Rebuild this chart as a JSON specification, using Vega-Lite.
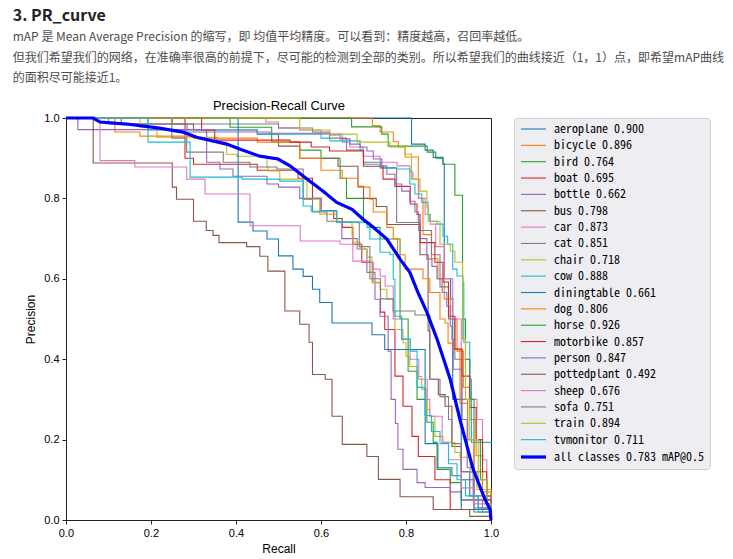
{
"$schema": "https://vega.github.io/schema/vega-lite/v6.json",
"background": "white",
"width": 425,
"height": 402,
"padding": {"left": 12, "top": 8, "right": 5, "bottom": 5},
"title": {
  "text": "3. PR_curve",
  "subtitle": ["mAP 是 Mean Average Precision 的缩写，即 均值平均精度。可以看到：精度越高，召回率越低。", "但我们希望我们的网络，在准确率很高的前提下，尽可能的检测到全部的类别。所以希望我们的曲线接近（1，1）点，即希望mAP曲线", "的面积尽可能接近1。"],
  "anchor": "start", "frame": "bounds", "dx": -12,
  "font": "Noto Sans CJK SC", "fontSize": 16, "fontWeight": "bold", "color": "#222226",
  "subtitleFont": "Noto Sans CJK SC", "subtitleFontSize": 12, "subtitleColor": "#4d4d4d",
  "subtitleLineHeight": 20.5, "subtitlePadding": 8, "offset": 15
},
"config": {
  "view": {"stroke": "#222", "strokeWidth": 1},
  "axis": {"domainColor": "#222", "tickColor": "#222", "labelColor": "#000", "titleColor": "#000", "labelFont": "Liberation Sans", "titleFont": "Liberation Sans", "labelFontSize": 11, "titleFontSize": 12, "titleFontWeight": "normal", "grid": false, "tickSize": 4, "labelPadding": 3},
  "legend": {"orient": "right", "offset": 16, "symbolType": "M-1,0H4", "symbolSize": 100, "labelFont": "Noto Sans Mono CJK SC", "labelFontSize": 12, "labelColor": "#000", "fillColor": "#ededf2", "strokeColor": "#cfcfcf", "cornerRadius": 3, "padding": 5, "rowPadding": 4.35, "labelOffset": 21, "labelLimit": 300, "symbolOpacity": 1}
},
"data": {"values": [
{"c":"aeroplane 0.900","r":0,"p":1},{"c":"aeroplane 0.900","r":0.813,"p":0.935},{"c":"aeroplane 0.900","r":0.845,"p":0.92},{"c":"aeroplane 0.900","r":0.864,"p":0.902},{"c":"aeroplane 0.900","r":0.887,"p":0.886},{"c":"aeroplane 0.900","r":0.89,"p":0.6},{"c":"aeroplane 0.900","r":0.905,"p":0.55},{"c":"aeroplane 0.900","r":0.91,"p":0.3},{"c":"aeroplane 0.900","r":0.93,"p":0.12},{"c":"aeroplane 0.900","r":0.95,"p":0.06},{"c":"aeroplane 0.900","r":0.97,"p":0.03},{"c":"aeroplane 0.900","r":1,"p":0},
{"c":"bicycle 0.896","r":0,"p":1},{"c":"bicycle 0.896","r":0.721,"p":0.981},{"c":"bicycle 0.896","r":0.739,"p":0.965},{"c":"bicycle 0.896","r":0.77,"p":0.941},{"c":"bicycle 0.896","r":0.782,"p":0.928},{"c":"bicycle 0.896","r":0.798,"p":0.903},{"c":"bicycle 0.896","r":0.829,"p":0.8},{"c":"bicycle 0.896","r":0.84,"p":0.71},{"c":"bicycle 0.896","r":0.86,"p":0.65},{"c":"bicycle 0.896","r":0.875,"p":0.6},{"c":"bicycle 0.896","r":0.89,"p":0.55},{"c":"bicycle 0.896","r":0.905,"p":0.5},{"c":"bicycle 0.896","r":0.92,"p":0.42},{"c":"bicycle 0.896","r":0.935,"p":0.33},{"c":"bicycle 0.896","r":0.95,"p":0.25},{"c":"bicycle 0.896","r":0.965,"p":0.16},{"c":"bicycle 0.896","r":0.98,"p":0.07},{"c":"bicycle 0.896","r":1,"p":0},
{"c":"bird 0.764","r":0,"p":1},{"c":"bird 0.764","r":0.386,"p":0.977},{"c":"bird 0.764","r":0.484,"p":0.94},{"c":"bird 0.764","r":0.55,"p":0.92},{"c":"bird 0.764","r":0.6,"p":0.9},{"c":"bird 0.764","r":0.645,"p":0.85},{"c":"bird 0.764","r":0.66,"p":0.8},{"c":"bird 0.764","r":0.7,"p":0.74},{"c":"bird 0.764","r":0.715,"p":0.728},{"c":"bird 0.764","r":0.739,"p":0.699},{"c":"bird 0.764","r":0.786,"p":0.5},{"c":"bird 0.764","r":0.805,"p":0.37},{"c":"bird 0.764","r":0.826,"p":0.3},{"c":"bird 0.764","r":0.849,"p":0.243},{"c":"bird 0.764","r":0.864,"p":0.193},{"c":"bird 0.764","r":0.873,"p":0.126},{"c":"bird 0.764","r":0.904,"p":0.093},{"c":"bird 0.764","r":0.93,"p":0.05},{"c":"bird 0.764","r":0.96,"p":0.02},{"c":"bird 0.764","r":1,"p":0},
{"c":"boat 0.695","r":0,"p":1},{"c":"boat 0.695","r":0.28,"p":0.9},{"c":"boat 0.695","r":0.3,"p":0.885},{"c":"boat 0.695","r":0.45,"p":0.87},{"c":"boat 0.695","r":0.546,"p":0.85},{"c":"boat 0.695","r":0.58,"p":0.8},{"c":"boat 0.695","r":0.6,"p":0.77},{"c":"boat 0.695","r":0.63,"p":0.75},{"c":"boat 0.695","r":0.65,"p":0.728},{"c":"boat 0.695","r":0.675,"p":0.686},{"c":"boat 0.695","r":0.696,"p":0.641},{"c":"boat 0.695","r":0.722,"p":0.59},{"c":"boat 0.695","r":0.74,"p":0.517},{"c":"boat 0.695","r":0.75,"p":0.474},{"c":"boat 0.695","r":0.774,"p":0.358},{"c":"boat 0.695","r":0.793,"p":0.283},{"c":"boat 0.695","r":0.814,"p":0.208},{"c":"boat 0.695","r":0.829,"p":0.158},{"c":"boat 0.695","r":0.868,"p":0.1},{"c":"boat 0.695","r":0.904,"p":0.026},{"c":"boat 0.695","r":1,"p":0},
{"c":"bottle 0.662","r":0,"p":1},{"c":"bottle 0.662","r":0.1,"p":0.985},{"c":"bottle 0.662","r":0.285,"p":0.965},{"c":"bottle 0.662","r":0.331,"p":0.89},{"c":"bottle 0.662","r":0.362,"p":0.873},{"c":"bottle 0.662","r":0.393,"p":0.855},{"c":"bottle 0.662","r":0.473,"p":0.836},{"c":"bottle 0.662","r":0.5,"p":0.828},{"c":"bottle 0.662","r":0.55,"p":0.8},{"c":"bottle 0.662","r":0.6,"p":0.77},{"c":"bottle 0.662","r":0.637,"p":0.741},{"c":"bottle 0.662","r":0.649,"p":0.7},{"c":"bottle 0.662","r":0.685,"p":0.674},{"c":"bottle 0.662","r":0.708,"p":0.616},{"c":"bottle 0.662","r":0.727,"p":0.549},{"c":"bottle 0.662","r":0.739,"p":0.507},{"c":"bottle 0.662","r":0.758,"p":0.42},{"c":"bottle 0.662","r":0.765,"p":0.3},{"c":"bottle 0.662","r":0.775,"p":0.24},{"c":"bottle 0.662","r":0.781,"p":0.176},{"c":"bottle 0.662","r":0.793,"p":0.126},{"c":"bottle 0.662","r":0.826,"p":0.093},{"c":"bottle 0.662","r":0.845,"p":0.081},{"c":"bottle 0.662","r":0.904,"p":0.07},{"c":"bottle 0.662","r":0.93,"p":0.05},{"c":"bottle 0.662","r":0.96,"p":0.03},{"c":"bottle 0.662","r":1,"p":0},
{"c":"bus 0.798","r":0,"p":1},{"c":"bus 0.798","r":0.13,"p":0.985},{"c":"bus 0.798","r":0.3,"p":0.97},{"c":"bus 0.798","r":0.45,"p":0.96},{"c":"bus 0.798","r":0.5,"p":0.93},{"c":"bus 0.798","r":0.55,"p":0.9},{"c":"bus 0.798","r":0.64,"p":0.88},{"c":"bus 0.798","r":0.687,"p":0.83},{"c":"bus 0.798","r":0.7,"p":0.8},{"c":"bus 0.798","r":0.73,"p":0.78},{"c":"bus 0.798","r":0.755,"p":0.735},{"c":"bus 0.798","r":0.833,"p":0.66},{"c":"bus 0.798","r":0.852,"p":0.47},{"c":"bus 0.798","r":0.856,"p":0.35},{"c":"bus 0.798","r":0.876,"p":0.312},{"c":"bus 0.798","r":0.892,"p":0.283},{"c":"bus 0.798","r":0.908,"p":0.183},{"c":"bus 0.798","r":0.93,"p":0.1},{"c":"bus 0.798","r":0.96,"p":0.05},{"c":"bus 0.798","r":1,"p":0},
{"c":"car 0.873","r":0,"p":1},{"c":"car 0.873","r":0.47,"p":0.99},{"c":"car 0.873","r":0.5,"p":0.975},{"c":"car 0.873","r":0.55,"p":0.97},{"c":"car 0.873","r":0.6,"p":0.96},{"c":"car 0.873","r":0.65,"p":0.94},{"c":"car 0.873","r":0.668,"p":0.928},{"c":"car 0.873","r":0.699,"p":0.905},{"c":"car 0.873","r":0.739,"p":0.89},{"c":"car 0.873","r":0.779,"p":0.881},{"c":"car 0.873","r":0.809,"p":0.866},{"c":"car 0.873","r":0.816,"p":0.848},{"c":"car 0.873","r":0.83,"p":0.8},{"c":"car 0.873","r":0.845,"p":0.76},{"c":"car 0.873","r":0.857,"p":0.736},{"c":"car 0.873","r":0.87,"p":0.68},{"c":"car 0.873","r":0.89,"p":0.6},{"c":"car 0.873","r":0.91,"p":0.5},{"c":"car 0.873","r":0.93,"p":0.4},{"c":"car 0.873","r":0.95,"p":0.3},{"c":"car 0.873","r":0.967,"p":0.25},{"c":"car 0.873","r":0.98,"p":0.15},{"c":"car 0.873","r":0.99,"p":0.06},{"c":"car 0.873","r":1,"p":0},
{"c":"cat 0.851","r":0,"p":1},{"c":"cat 0.851","r":0.25,"p":0.985},{"c":"cat 0.851","r":0.5,"p":0.975},{"c":"cat 0.851","r":0.58,"p":0.965},{"c":"cat 0.851","r":0.62,"p":0.95},{"c":"cat 0.851","r":0.66,"p":0.92},{"c":"cat 0.851","r":0.7,"p":0.89},{"c":"cat 0.851","r":0.74,"p":0.875},{"c":"cat 0.851","r":0.778,"p":0.74},{"c":"cat 0.851","r":0.83,"p":0.72},{"c":"cat 0.851","r":0.86,"p":0.66},{"c":"cat 0.851","r":0.88,"p":0.58},{"c":"cat 0.851","r":0.9,"p":0.5},{"c":"cat 0.851","r":0.915,"p":0.4},{"c":"cat 0.851","r":0.93,"p":0.3},{"c":"cat 0.851","r":0.945,"p":0.2},{"c":"cat 0.851","r":0.96,"p":0.12},{"c":"cat 0.851","r":0.98,"p":0.06},{"c":"cat 0.851","r":1,"p":0},
{"c":"chair 0.718","r":0,"p":1},{"c":"chair 0.718","r":0.174,"p":0.977},{"c":"chair 0.718","r":0.214,"p":0.952},{"c":"chair 0.718","r":0.355,"p":0.94},{"c":"chair 0.718","r":0.378,"p":0.91},{"c":"chair 0.718","r":0.402,"p":0.905},{"c":"chair 0.718","r":0.473,"p":0.878},{"c":"chair 0.718","r":0.475,"p":0.868},{"c":"chair 0.718","r":0.503,"p":0.848},{"c":"chair 0.718","r":0.567,"p":0.798},{"c":"chair 0.718","r":0.597,"p":0.761},{"c":"chair 0.718","r":0.637,"p":0.741},{"c":"chair 0.718","r":0.673,"p":0.706},{"c":"chair 0.718","r":0.675,"p":0.691},{"c":"chair 0.718","r":0.692,"p":0.674},{"c":"chair 0.718","r":0.708,"p":0.654},{"c":"chair 0.718","r":0.72,"p":0.591},{"c":"chair 0.718","r":0.739,"p":0.574},{"c":"chair 0.718","r":0.755,"p":0.549},{"c":"chair 0.718","r":0.77,"p":0.517},{"c":"chair 0.718","r":0.774,"p":0.474},{"c":"chair 0.718","r":0.793,"p":0.441},{"c":"chair 0.718","r":0.8,"p":0.407},{"c":"chair 0.718","r":0.809,"p":0.382},{"c":"chair 0.718","r":0.826,"p":0.357},{"c":"chair 0.718","r":0.837,"p":0.325},{"c":"chair 0.718","r":0.849,"p":0.275},{"c":"chair 0.718","r":0.856,"p":0.258},{"c":"chair 0.718","r":0.868,"p":0.208},{"c":"chair 0.718","r":0.887,"p":0.193},{"c":"chair 0.718","r":0.915,"p":0.168},{"c":"chair 0.718","r":0.927,"p":0.156},{"c":"chair 0.718","r":0.951,"p":0.118},{"c":"chair 0.718","r":0.967,"p":0.076},{"c":"chair 0.718","r":1,"p":0},
{"c":"cow 0.888","r":0,"p":1},{"c":"cow 0.888","r":0.193,"p":0.97},{"c":"cow 0.888","r":0.45,"p":0.96},{"c":"cow 0.888","r":0.6,"p":0.95},{"c":"cow 0.888","r":0.621,"p":0.943},{"c":"cow 0.888","r":0.692,"p":0.92},{"c":"cow 0.888","r":0.7,"p":0.885},{"c":"cow 0.888","r":0.739,"p":0.877},{"c":"cow 0.888","r":0.778,"p":0.873},{"c":"cow 0.888","r":0.809,"p":0.836},{"c":"cow 0.888","r":0.821,"p":0.811},{"c":"cow 0.888","r":0.837,"p":0.79},{"c":"cow 0.888","r":0.852,"p":0.76},{"c":"cow 0.888","r":0.856,"p":0.743},{"c":"cow 0.888","r":0.873,"p":0.736},{"c":"cow 0.888","r":0.887,"p":0.706},{"c":"cow 0.888","r":0.898,"p":0.686},{"c":"cow 0.888","r":0.91,"p":0.624},{"c":"cow 0.888","r":0.92,"p":0.607},{"c":"cow 0.888","r":0.934,"p":0.59},{"c":"cow 0.888","r":0.936,"p":0.442},{"c":"cow 0.888","r":0.95,"p":0.35},{"c":"cow 0.888","r":0.954,"p":0.193},{"c":"cow 0.888","r":1,"p":0.19},
{"c":"diningtable 0.661","r":0,"p":1},{"c":"diningtable 0.661","r":0.405,"p":0.741},{"c":"diningtable 0.661","r":0.44,"p":0.719},{"c":"diningtable 0.661","r":0.473,"p":0.699},{"c":"diningtable 0.661","r":0.5,"p":0.657},{"c":"diningtable 0.661","r":0.534,"p":0.624},{"c":"diningtable 0.661","r":0.558,"p":0.606},{"c":"diningtable 0.661","r":0.58,"p":0.574},{"c":"diningtable 0.661","r":0.597,"p":0.541},{"c":"diningtable 0.661","r":0.626,"p":0.49},{"c":"diningtable 0.661","r":0.72,"p":0.461},{"c":"diningtable 0.661","r":0.75,"p":0.424},{"c":"diningtable 0.661","r":0.845,"p":0.19},{"c":"diningtable 0.661","r":0.875,"p":0.13},{"c":"diningtable 0.661","r":0.908,"p":0.11},{"c":"diningtable 0.661","r":0.93,"p":0.026},{"c":"diningtable 0.661","r":1,"p":0},
{"c":"dog 0.806","r":0,"p":1},{"c":"dog 0.806","r":0.115,"p":0.965},{"c":"dog 0.806","r":0.174,"p":0.955},{"c":"dog 0.806","r":0.3,"p":0.95},{"c":"dog 0.806","r":0.45,"p":0.94},{"c":"dog 0.806","r":0.55,"p":0.9},{"c":"dog 0.806","r":0.6,"p":0.87},{"c":"dog 0.806","r":0.65,"p":0.85},{"c":"dog 0.806","r":0.687,"p":0.828},{"c":"dog 0.806","r":0.715,"p":0.798},{"c":"dog 0.806","r":0.723,"p":0.766},{"c":"dog 0.806","r":0.755,"p":0.728},{"c":"dog 0.806","r":0.77,"p":0.7},{"c":"dog 0.806","r":0.78,"p":0.66},{"c":"dog 0.806","r":0.798,"p":0.624},{"c":"dog 0.806","r":0.84,"p":0.6},{"c":"dog 0.806","r":0.856,"p":0.566},{"c":"dog 0.806","r":0.88,"p":0.5},{"c":"dog 0.806","r":0.892,"p":0.49},{"c":"dog 0.806","r":0.899,"p":0.44},{"c":"dog 0.806","r":0.911,"p":0.425},{"c":"dog 0.806","r":0.927,"p":0.29},{"c":"dog 0.806","r":0.945,"p":0.2},{"c":"dog 0.806","r":0.96,"p":0.12},{"c":"dog 0.806","r":0.98,"p":0.06},{"c":"dog 0.806","r":1,"p":0},
{"c":"horse 0.926","r":0,"p":1},{"c":"horse 0.926","r":0.672,"p":0.978},{"c":"horse 0.926","r":0.743,"p":0.96},{"c":"horse 0.926","r":0.758,"p":0.93},{"c":"horse 0.926","r":0.85,"p":0.915},{"c":"horse 0.926","r":0.87,"p":0.9},{"c":"horse 0.926","r":0.887,"p":0.885},{"c":"horse 0.926","r":0.915,"p":0.808},{"c":"horse 0.926","r":0.933,"p":0.5},{"c":"horse 0.926","r":0.94,"p":0.4},{"c":"horse 0.926","r":0.95,"p":0.3},{"c":"horse 0.926","r":0.96,"p":0.2},{"c":"horse 0.926","r":0.975,"p":0.1},{"c":"horse 0.926","r":0.99,"p":0.04},{"c":"horse 0.926","r":1,"p":0},
{"c":"motorbike 0.857","r":0,"p":1},{"c":"motorbike 0.857","r":0.319,"p":0.97},{"c":"motorbike 0.857","r":0.35,"p":0.945},{"c":"motorbike 0.857","r":0.527,"p":0.94},{"c":"motorbike 0.857","r":0.577,"p":0.928},{"c":"motorbike 0.857","r":0.62,"p":0.918},{"c":"motorbike 0.857","r":0.7,"p":0.88},{"c":"motorbike 0.857","r":0.746,"p":0.848},{"c":"motorbike 0.857","r":0.774,"p":0.83},{"c":"motorbike 0.857","r":0.81,"p":0.786},{"c":"motorbike 0.857","r":0.826,"p":0.76},{"c":"motorbike 0.857","r":0.833,"p":0.69},{"c":"motorbike 0.857","r":0.868,"p":0.641},{"c":"motorbike 0.857","r":0.887,"p":0.592},{"c":"motorbike 0.857","r":0.9,"p":0.507},{"c":"motorbike 0.857","r":0.915,"p":0.425},{"c":"motorbike 0.857","r":0.932,"p":0.358},{"c":"motorbike 0.857","r":0.95,"p":0.28},{"c":"motorbike 0.857","r":0.965,"p":0.2},{"c":"motorbike 0.857","r":0.98,"p":0.12},{"c":"motorbike 0.857","r":0.99,"p":0.05},{"c":"motorbike 0.857","r":1,"p":0},
{"c":"person 0.847","r":0,"p":1},{"c":"person 0.847","r":0.028,"p":0.971},{"c":"person 0.847","r":0.33,"p":0.965},{"c":"person 0.847","r":0.48,"p":0.962},{"c":"person 0.847","r":0.621,"p":0.958},{"c":"person 0.847","r":0.645,"p":0.948},{"c":"person 0.847","r":0.668,"p":0.935},{"c":"person 0.847","r":0.692,"p":0.928},{"c":"person 0.847","r":0.708,"p":0.918},{"c":"person 0.847","r":0.723,"p":0.898},{"c":"person 0.847","r":0.743,"p":0.881},{"c":"person 0.847","r":0.755,"p":0.86},{"c":"person 0.847","r":0.774,"p":0.836},{"c":"person 0.847","r":0.79,"p":0.818},{"c":"person 0.847","r":0.809,"p":0.793},{"c":"person 0.847","r":0.821,"p":0.766},{"c":"person 0.847","r":0.829,"p":0.743},{"c":"person 0.847","r":0.833,"p":0.7},{"c":"person 0.847","r":0.849,"p":0.649},{"c":"person 0.847","r":0.861,"p":0.631},{"c":"person 0.847","r":0.873,"p":0.6},{"c":"person 0.847","r":0.885,"p":0.566},{"c":"person 0.847","r":0.896,"p":0.532},{"c":"person 0.847","r":0.904,"p":0.482},{"c":"person 0.847","r":0.908,"p":0.45},{"c":"person 0.847","r":0.911,"p":0.375},{"c":"person 0.847","r":0.932,"p":0.25},{"c":"person 0.847","r":0.944,"p":0.13},{"c":"person 0.847","r":0.958,"p":0.05},{"c":"person 0.847","r":0.98,"p":0.02},{"c":"person 0.847","r":1,"p":0},
{"c":"pottedplant 0.492","r":0,"p":1},{"c":"pottedplant 0.492","r":0.064,"p":0.888},{"c":"pottedplant 0.492","r":0.25,"p":0.828},{"c":"pottedplant 0.492","r":0.26,"p":0.798},{"c":"pottedplant 0.492","r":0.3,"p":0.743},{"c":"pottedplant 0.492","r":0.33,"p":0.72},{"c":"pottedplant 0.492","r":0.346,"p":0.708},{"c":"pottedplant 0.492","r":0.36,"p":0.69},{"c":"pottedplant 0.492","r":0.425,"p":0.68},{"c":"pottedplant 0.492","r":0.456,"p":0.656},{"c":"pottedplant 0.492","r":0.475,"p":0.619},{"c":"pottedplant 0.492","r":0.515,"p":0.52},{"c":"pottedplant 0.492","r":0.55,"p":0.487},{"c":"pottedplant 0.492","r":0.572,"p":0.442},{"c":"pottedplant 0.492","r":0.58,"p":0.362},{"c":"pottedplant 0.492","r":0.61,"p":0.35},{"c":"pottedplant 0.492","r":0.626,"p":0.258},{"c":"pottedplant 0.492","r":0.65,"p":0.188},{"c":"pottedplant 0.492","r":0.708,"p":0.158},{"c":"pottedplant 0.492","r":0.735,"p":0.101},{"c":"pottedplant 0.492","r":0.786,"p":0.058},{"c":"pottedplant 0.492","r":0.864,"p":0.026},{"c":"pottedplant 0.492","r":0.95,"p":0.009},{"c":"pottedplant 0.492","r":1,"p":0},
{"c":"sheep 0.676","r":0,"p":1},{"c":"sheep 0.676","r":0.08,"p":0.894},{"c":"sheep 0.676","r":0.162,"p":0.878},{"c":"sheep 0.676","r":0.284,"p":0.848},{"c":"sheep 0.676","r":0.327,"p":0.811},{"c":"sheep 0.676","r":0.433,"p":0.732},{"c":"sheep 0.676","r":0.551,"p":0.694},{"c":"sheep 0.676","r":0.645,"p":0.686},{"c":"sheep 0.676","r":0.675,"p":0.644},{"c":"sheep 0.676","r":0.715,"p":0.641},{"c":"sheep 0.676","r":0.723,"p":0.624},{"c":"sheep 0.676","r":0.739,"p":0.607},{"c":"sheep 0.676","r":0.751,"p":0.582},{"c":"sheep 0.676","r":0.77,"p":0.5},{"c":"sheep 0.676","r":0.79,"p":0.45},{"c":"sheep 0.676","r":0.81,"p":0.4},{"c":"sheep 0.676","r":0.83,"p":0.35},{"c":"sheep 0.676","r":0.85,"p":0.3},{"c":"sheep 0.676","r":0.856,"p":0.258},{"c":"sheep 0.676","r":0.885,"p":0.193},{"c":"sheep 0.676","r":0.9,"p":0.15},{"c":"sheep 0.676","r":0.93,"p":0.08},{"c":"sheep 0.676","r":0.96,"p":0.04},{"c":"sheep 0.676","r":1,"p":0},
{"c":"sofa 0.751","r":0,"p":1},{"c":"sofa 0.751","r":0.249,"p":0.95},{"c":"sofa 0.751","r":0.284,"p":0.915},{"c":"sofa 0.751","r":0.37,"p":0.89},{"c":"sofa 0.751","r":0.433,"p":0.878},{"c":"sofa 0.751","r":0.496,"p":0.873},{"c":"sofa 0.751","r":0.558,"p":0.798},{"c":"sofa 0.751","r":0.58,"p":0.766},{"c":"sofa 0.751","r":0.614,"p":0.743},{"c":"sofa 0.751","r":0.645,"p":0.741},{"c":"sofa 0.751","r":0.69,"p":0.68},{"c":"sofa 0.751","r":0.715,"p":0.6},{"c":"sofa 0.751","r":0.74,"p":0.55},{"c":"sofa 0.751","r":0.77,"p":0.52},{"c":"sofa 0.751","r":0.821,"p":0.51},{"c":"sofa 0.751","r":0.856,"p":0.35},{"c":"sofa 0.751","r":0.88,"p":0.307},{"c":"sofa 0.751","r":0.9,"p":0.25},{"c":"sofa 0.751","r":0.908,"p":0.19},{"c":"sofa 0.751","r":0.93,"p":0.12},{"c":"sofa 0.751","r":0.96,"p":0.06},{"c":"sofa 0.751","r":1,"p":0},
{"c":"train 0.894","r":0,"p":1},{"c":"train 0.894","r":0.55,"p":0.97},{"c":"train 0.894","r":0.621,"p":0.96},{"c":"train 0.894","r":0.685,"p":0.94},{"c":"train 0.894","r":0.762,"p":0.928},{"c":"train 0.894","r":0.798,"p":0.91},{"c":"train 0.894","r":0.813,"p":0.848},{"c":"train 0.894","r":0.833,"p":0.818},{"c":"train 0.894","r":0.849,"p":0.778},{"c":"train 0.894","r":0.852,"p":0.743},{"c":"train 0.894","r":0.88,"p":0.686},{"c":"train 0.894","r":0.904,"p":0.669},{"c":"train 0.894","r":0.915,"p":0.641},{"c":"train 0.894","r":0.933,"p":0.45},{"c":"train 0.894","r":0.94,"p":0.3},{"c":"train 0.894","r":0.95,"p":0.2},{"c":"train 0.894","r":0.97,"p":0.1},{"c":"train 0.894","r":0.99,"p":0.04},{"c":"train 0.894","r":1,"p":0},
{"c":"tvmonitor 0.711","r":0,"p":1},{"c":"tvmonitor 0.711","r":0.193,"p":0.94},{"c":"tvmonitor 0.711","r":0.292,"p":0.853},{"c":"tvmonitor 0.711","r":0.414,"p":0.848},{"c":"tvmonitor 0.711","r":0.503,"p":0.843},{"c":"tvmonitor 0.711","r":0.558,"p":0.781},{"c":"tvmonitor 0.711","r":0.577,"p":0.768},{"c":"tvmonitor 0.711","r":0.637,"p":0.741},{"c":"tvmonitor 0.711","r":0.708,"p":0.728},{"c":"tvmonitor 0.711","r":0.715,"p":0.699},{"c":"tvmonitor 0.711","r":0.739,"p":0.666},{"c":"tvmonitor 0.711","r":0.762,"p":0.661},{"c":"tvmonitor 0.711","r":0.77,"p":0.599},{"c":"tvmonitor 0.711","r":0.774,"p":0.507},{"c":"tvmonitor 0.711","r":0.79,"p":0.45},{"c":"tvmonitor 0.711","r":0.81,"p":0.42},{"c":"tvmonitor 0.711","r":0.826,"p":0.33},{"c":"tvmonitor 0.711","r":0.845,"p":0.26},{"c":"tvmonitor 0.711","r":0.86,"p":0.22},{"c":"tvmonitor 0.711","r":0.88,"p":0.19},{"c":"tvmonitor 0.711","r":0.9,"p":0.14},{"c":"tvmonitor 0.711","r":0.92,"p":0.1},{"c":"tvmonitor 0.711","r":0.94,"p":0.06},{"c":"tvmonitor 0.711","r":0.97,"p":0.02},{"c":"tvmonitor 0.711","r":1,"p":0},
{"c":"all classes 0.783 mAP@0.5","r":0,"p":1},{"c":"all classes 0.783 mAP@0.5","r":0.064,"p":1},{"c":"all classes 0.783 mAP@0.5","r":0.08,"p":0.99},{"c":"all classes 0.783 mAP@0.5","r":0.143,"p":0.985},{"c":"all classes 0.783 mAP@0.5","r":0.22,"p":0.975},{"c":"all classes 0.783 mAP@0.5","r":0.275,"p":0.965},{"c":"all classes 0.783 mAP@0.5","r":0.307,"p":0.952},{"c":"all classes 0.783 mAP@0.5","r":0.378,"p":0.935},{"c":"all classes 0.783 mAP@0.5","r":0.41,"p":0.922},{"c":"all classes 0.783 mAP@0.5","r":0.456,"p":0.905},{"c":"all classes 0.783 mAP@0.5","r":0.499,"p":0.898},{"c":"all classes 0.783 mAP@0.5","r":0.527,"p":0.881},{"c":"all classes 0.783 mAP@0.5","r":0.567,"p":0.848},{"c":"all classes 0.783 mAP@0.5","r":0.605,"p":0.818},{"c":"all classes 0.783 mAP@0.5","r":0.637,"p":0.79},{"c":"all classes 0.783 mAP@0.5","r":0.673,"p":0.773},{"c":"all classes 0.783 mAP@0.5","r":0.699,"p":0.748},{"c":"all classes 0.783 mAP@0.5","r":0.723,"p":0.728},{"c":"all classes 0.783 mAP@0.5","r":0.755,"p":0.699},{"c":"all classes 0.783 mAP@0.5","r":0.786,"p":0.649},{"c":"all classes 0.783 mAP@0.5","r":0.809,"p":0.616},{"c":"all classes 0.783 mAP@0.5","r":0.828,"p":0.566},{"c":"all classes 0.783 mAP@0.5","r":0.849,"p":0.517},{"c":"all classes 0.783 mAP@0.5","r":0.873,"p":0.45},{"c":"all classes 0.783 mAP@0.5","r":0.904,"p":0.35},{"c":"all classes 0.783 mAP@0.5","r":0.927,"p":0.25},{"c":"all classes 0.783 mAP@0.5","r":0.958,"p":0.126},{"c":"all classes 0.783 mAP@0.5","r":0.986,"p":0.051},{"c":"all classes 0.783 mAP@0.5","r":0.998,"p":0.026},{"c":"all classes 0.783 mAP@0.5","r":1,"p":0}
]},
"encoding": {
  "y": {"field": "p", "type": "quantitative", "scale": {"domain": [0, 1], "nice": false, "zero": false}, "axis": {"title": "Precision", "values": [0, 0.2, 0.4, 0.6, 0.8, 1], "format": ".1f", "titlePadding": 6}},
  "color": {"field": "c", "type": "nominal", "scale": {"domain": ["aeroplane 0.900","bicycle 0.896","bird 0.764","boat 0.695","bottle 0.662","bus 0.798","car 0.873","cat 0.851","chair 0.718","cow 0.888","diningtable 0.661","dog 0.806","horse 0.926","motorbike 0.857","person 0.847","pottedplant 0.492","sheep 0.676","sofa 0.751","train 0.894","tvmonitor 0.711","all classes 0.783 mAP@0.5"], "range": ["#1f77b4","#ff7f0e","#2ca02c","#d62728","#9467bd","#8c564b","#e377c2","#7f7f7f","#bcbd22","#17becf","#1f77b4","#ff7f0e","#2ca02c","#d62728","#9467bd","#8c564b","#e377c2","#7f7f7f","#bcbd22","#17becf","#0000ff"]}, "legend": {"title": null, "encode": {"symbols": {"update": {"stroke": {"scale": "color", "field": "value"}, "strokeWidth": {"signal": "datum.value === 'all classes 0.783 mAP@0.5' ? 3.4 : 1.6"}, "opacity": {"value": 1}, "strokeOpacity": {"value": 1}}}}}},
  "strokeWidth": {"field": "c", "type": "nominal", "scale": {"type": "ordinal", "domain": ["aeroplane 0.900","bicycle 0.896","bird 0.764","boat 0.695","bottle 0.662","bus 0.798","car 0.873","cat 0.851","chair 0.718","cow 0.888","diningtable 0.661","dog 0.806","horse 0.926","motorbike 0.857","person 0.847","pottedplant 0.492","sheep 0.676","sofa 0.751","train 0.894","tvmonitor 0.711","all classes 0.783 mAP@0.5"], "range": [1.1,1.1,1.1,1.1,1.1,1.1,1.1,1.1,1.1,1.1,1.1,1.1,1.1,1.1,1.1,1.1,1.1,1.1,1.1,1.1,3.2]}, "legend": null}
},
"layer": [
  {
    "transform": [{"filter": "datum.c !== 'all classes 0.783 mAP@0.5'"}],
    "mark": {"type": "line", "interpolate": "step-after"},
    "encoding": {"x": {"field": "r", "type": "quantitative", "scale": {"domain": [0, 1], "nice": false, "zero": false}, "axis": {"title": "Recall", "values": [0, 0.2, 0.4, 0.6, 0.8, 1], "format": ".1f", "labelFlush": false, "titlePadding": 5}}}
  },
  {
    "transform": [{"filter": "datum.c === 'all classes 0.783 mAP@0.5'"}],
    "mark": {"type": "line"},
    "encoding": {"x": {"field": "r", "type": "quantitative", "axis": {"orient": "top", "title": "Precision-Recall Curve", "labels": false, "ticks": false, "domain": false, "titleFontSize": 13, "titlePadding": 6}}}
  }
],
"resolve": {"axis": {"x": "independent"}}
}
